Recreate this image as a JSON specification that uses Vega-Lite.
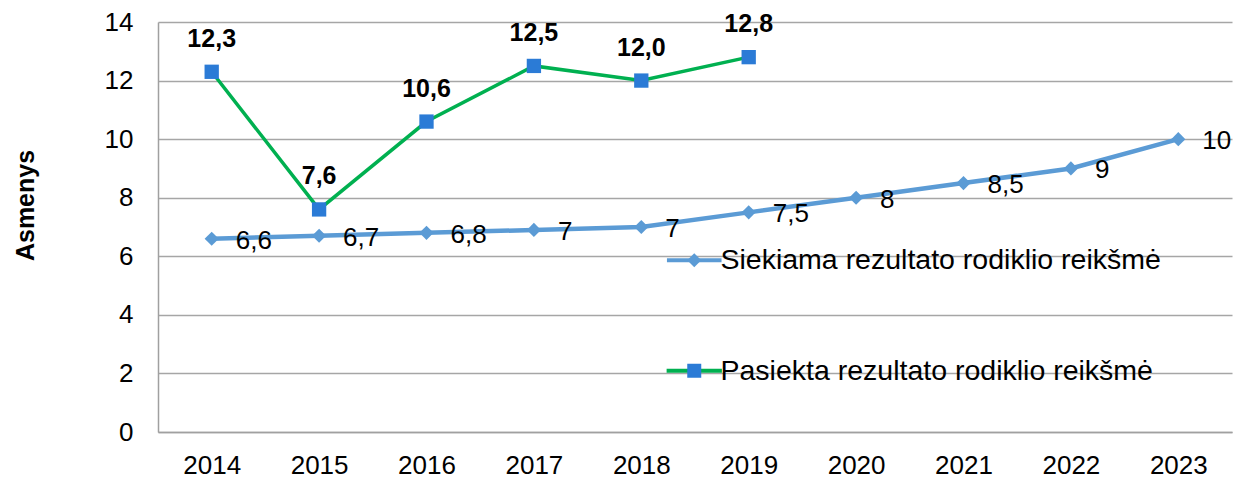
{
  "$schema": "https://vega.github.io/schema/vega-lite/v6.json",
  "autosize": {"type": "none"},
  "width": 1074,
  "height": 410,
  "padding": {"left": 158, "top": 22, "right": 2, "bottom": 47},
  "background": "white",
  "config": {
    "view": {"stroke": null},
    "font": "Liberation Sans",
    "legend": {
      "padding": 0,
      "title": null,
      "direction": "vertical",
      "symbolSize": 196,
      "labelFont": "Liberation Sans",
      "labelFontSize": 28.5,
      "labelColor": "#000000",
      "labelLimit": 700,
      "rowPadding": 81.5
    }
  },
  "data": {
    "values": [
      {"year": "2014", "series": "Siekiama rezultato rodiklio reikšmė", "value": 6.6, "label": "6,6"},
      {"year": "2015", "series": "Siekiama rezultato rodiklio reikšmė", "value": 6.7, "label": "6,7"},
      {"year": "2016", "series": "Siekiama rezultato rodiklio reikšmė", "value": 6.8, "label": "6,8"},
      {"year": "2017", "series": "Siekiama rezultato rodiklio reikšmė", "value": 6.9, "label": "7"},
      {"year": "2018", "series": "Siekiama rezultato rodiklio reikšmė", "value": 7.0, "label": "7"},
      {"year": "2019", "series": "Siekiama rezultato rodiklio reikšmė", "value": 7.5, "label": "7,5"},
      {"year": "2020", "series": "Siekiama rezultato rodiklio reikšmė", "value": 8.0, "label": "8"},
      {"year": "2021", "series": "Siekiama rezultato rodiklio reikšmė", "value": 8.5, "label": "8,5"},
      {"year": "2022", "series": "Siekiama rezultato rodiklio reikšmė", "value": 9.0, "label": "9"},
      {"year": "2023", "series": "Siekiama rezultato rodiklio reikšmė", "value": 10.0, "label": "10"},
      {"year": "2014", "series": "Pasiekta rezultato rodiklio reikšmė", "value": 12.3, "label": "12,3"},
      {"year": "2015", "series": "Pasiekta rezultato rodiklio reikšmė", "value": 7.6, "label": "7,6"},
      {"year": "2016", "series": "Pasiekta rezultato rodiklio reikšmė", "value": 10.6, "label": "10,6"},
      {"year": "2017", "series": "Pasiekta rezultato rodiklio reikšmė", "value": 12.5, "label": "12,5"},
      {"year": "2018", "series": "Pasiekta rezultato rodiklio reikšmė", "value": 12.0, "label": "12,0"},
      {"year": "2019", "series": "Pasiekta rezultato rodiklio reikšmė", "value": 12.8, "label": "12,8"}
    ]
  },
  "encoding": {
    "x": {
      "field": "year",
      "type": "ordinal",
      "scale": {"type": "point", "padding": 0.5, "domain": ["2014","2015","2016","2017","2018","2019","2020","2021","2022","2023"]},
      "axis": {
        "title": null,
        "labelAngle": 0,
        "ticks": false,
        "domainColor": "#A0A0A0",
        "domainWidth": 1.5,
        "labelFont": "Liberation Sans",
        "labelFontSize": 26,
        "labelColor": "#000000",
        "labelPadding": 20,
        "grid": false
      }
    },
    "y": {
      "field": "value",
      "type": "quantitative",
      "scale": {"domain": [0, 14], "nice": false, "zero": true},
      "axis": {
        "values": [0, 2, 4, 6, 8, 10, 12, 14],
        "title": "Asmenys",
        "titleFont": "Liberation Sans",
        "titleFontSize": 25,
        "titleFontWeight": "bold",
        "titleColor": "#000000",
        "titleAngle": -90,
        "titleX": -133,
        "titleY": 183,
        "titleAlign": "center",
        "titleBaseline": "middle",
        "ticks": false,
        "domainColor": "#A0A0A0",
        "domainWidth": 1.5,
        "grid": true,
        "gridColor": "#A6A6A6",
        "gridWidth": 1.5,
        "labelFont": "Liberation Sans",
        "labelFontSize": 26,
        "labelColor": "#000000",
        "labelPadding": 25
      }
    }
  },
  "layer": [
    {
      "transform": [{"filter": "datum.series === 'Siekiama rezultato rodiklio reikšmė'"}],
      "mark": {"type": "line", "strokeWidth": 4.5},
      "encoding": {
        "color": {
          "field": "series",
          "type": "nominal",
          "scale": {
            "domain": ["Siekiama rezultato rodiklio reikšmė", "Pasiekta rezultato rodiklio reikšmė"],
            "range": ["#5B9BD5", "#00B050"]
          },
          "legend": {
            "orient": "none",
            "legendX": 522,
            "legendY": 224,
            "labelOffset": 12,
            "symbolType": "M-3.86,0H3.86",
            "symbolStrokeWidth": 4,
            "symbolFillColor": "transparent"
          }
        }
      }
    },
    {
      "transform": [{"filter": "datum.series === 'Pasiekta rezultato rodiklio reikšmė'"}],
      "mark": {"type": "line", "strokeWidth": 3.5},
      "encoding": {
        "color": {
          "field": "series",
          "type": "nominal",
          "scale": {
            "domain": ["Siekiama rezultato rodiklio reikšmė", "Pasiekta rezultato rodiklio reikšmė"],
            "range": ["#5B9BD5", "#00B050"]
          },
          "legend": {
            "orient": "none",
            "legendX": 522,
            "legendY": 224,
            "labelOffset": 12,
            "symbolType": "M-3.86,0H3.86",
            "symbolStrokeWidth": 4,
            "symbolFillColor": "transparent"
          }
        }
      }
    },
    {
      "mark": {"type": "point", "filled": true, "opacity": 1, "strokeWidth": 0},
      "encoding": {
        "fill": {
          "field": "series",
          "type": "nominal",
          "scale": {
            "domain": ["Siekiama rezultato rodiklio reikšmė", "Pasiekta rezultato rodiklio reikšmė"],
            "range": ["#5B9BD5", "#2B7BD6"]
          },
          "legend": {"orient": "top-left", "offset": 224, "symbolOffset": 298, "labelOpacity": 0, "symbolStrokeWidth": 0}
        },
        "shape": {
          "field": "series",
          "type": "nominal",
          "scale": {
            "domain": ["Siekiama rezultato rodiklio reikšmė", "Pasiekta rezultato rodiklio reikšmė"],
            "range": ["diamond", "square"]
          },
          "legend": {"orient": "top-left", "offset": 224, "symbolOffset": 298, "labelOpacity": 0, "symbolStrokeWidth": 0}
        },
        "size": {
          "field": "series",
          "type": "nominal",
          "scale": {
            "domain": ["Siekiama rezultato rodiklio reikšmė", "Pasiekta rezultato rodiklio reikšmė"],
            "range": [200, 205]
          },
          "legend": null
        }
      }
    },
    {
      "transform": [{"filter": "datum.series === 'Siekiama rezultato rodiklio reikšmė'"}],
      "mark": {"type": "text", "align": "left", "baseline": "middle", "dx": 24, "dy": 2, "font": "Liberation Sans", "fontSize": 26, "color": "#000000"},
      "encoding": {"text": {"field": "label"}}
    },
    {
      "transform": [{"filter": "datum.series === 'Pasiekta rezultato rodiklio reikšmė'"}],
      "mark": {"type": "text", "align": "center", "baseline": "middle", "dy": -33, "font": "Liberation Sans", "fontSize": 25, "fontWeight": "bold", "color": "#000000"},
      "encoding": {"text": {"field": "label"}}
    }
  ]
}
